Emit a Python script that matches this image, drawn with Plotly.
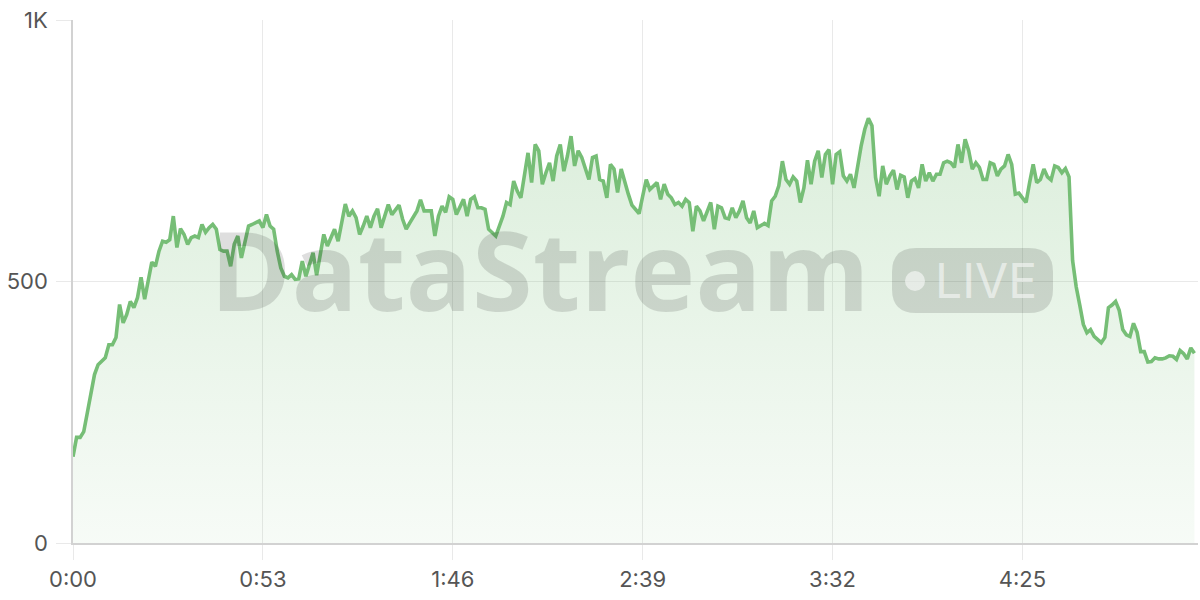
import plotly.graph_objects as go

# ---- data (seconds since start, value) ----
values = [
    165, 202, 202, 213, 249, 283, 322, 341, 347, 354, 379, 379, 393, 456, 421, 437, 462, 450, 469, 508,
    466, 498, 537, 529, 558, 577, 575, 580, 625, 565, 601, 590, 571, 584, 587, 584, 609, 594, 603, 609,
    600, 561, 558, 558, 529, 571, 587, 545, 577, 606, 609, 612, 616, 603, 628, 606, 600, 558, 526, 510,
    507, 513, 504, 505, 539, 510, 533, 555, 512, 550, 590, 568, 584, 600, 577, 615, 648, 625, 635, 622,
    590, 606, 625, 603, 625, 639, 603, 625, 647, 628, 638, 646, 619, 600, 612, 625, 635, 656, 635, 635,
    635, 587, 625, 644, 632, 662, 657, 628, 644, 657, 625, 657, 662, 641, 641, 638, 600, 593, 587, 606,
    625, 651, 647, 692, 673, 660, 702, 746, 689, 762, 750, 686, 708, 727, 692, 740, 762, 711, 740, 778,
    721, 750, 737, 715, 695, 737, 740, 695, 692, 660, 724, 715, 670, 715, 688, 667, 646, 638, 630, 663,
    695, 676, 683, 689, 657, 686, 667, 660, 647, 651, 644, 657, 651, 596, 644, 635, 616, 635, 651, 600,
    644, 641, 622, 620, 641, 622, 635, 654, 622, 612, 635, 603, 607, 611, 607, 654, 663, 683, 730, 695,
    686, 700, 692, 651, 679, 732, 686, 730, 750, 699, 743, 752, 686, 743, 748, 702, 692, 705, 679, 720,
    760, 791, 812, 798, 699, 663, 721, 686, 702, 713, 676, 703, 700, 660, 692, 697, 679, 724, 692, 708,
    692, 705, 705, 727, 730, 727, 718, 762, 727, 772, 750, 715, 727, 718, 695, 695, 727, 724, 702, 715,
    721, 743, 724, 667, 669, 660, 651, 689, 724, 689, 695, 715, 700, 694, 721, 718, 708, 716, 700, 540,
    490, 455, 418, 402, 408, 395, 388, 383, 393, 450, 455, 462, 445, 408, 398, 395, 420, 403, 366, 366,
    346, 347, 354, 352, 352, 354, 358, 357, 351, 368, 362, 352, 373, 363,
]
seconds = list(range(len(values)))

tick_seconds = [0, 53, 106, 159, 212, 265]
tick_labels = ["0:00", "0:53", "1:46", "2:39", "3:32", "4:25"]
y_ticks = [0, 500, 1000]
y_labels = ["0", "500", "1K"]

LINE = "rgb(118,190,118)"
GRID = "#e9e9e9"
AXIS = "#d2d2d2"
FONT = "Inter"

fig = go.Figure()
fig.add_trace(go.Scatter(
    x=seconds, y=values, mode="lines",
    line=dict(color=LINE, width=3.6),
    fill="tozeroy",
    fillgradient=dict(type="vertical", start=0, stop=820,
                      colorscale=[[0, "rgba(118,190,118,0.06)"], [1, "rgba(118,190,118,0.26)"]]),
    hoverinfo="skip",
))

# watermark
def px_x(p):
    return (p - 73) / 1125

def px_y(p):
    return (543 - p) / 523

fig.add_annotation(
    text="<b>DataStream</b>", xref="paper", yref="paper",
    x=px_x(540), y=px_y(268), xanchor="center", yanchor="middle", showarrow=False,
    font=dict(family="Open Sans", size=110, color="rgba(0,0,0,0.13)"),
)

x0, x1 = px_x(892), px_x(1053)
y0, y1 = px_y(313), px_y(248)
rx, ry = 24 / 1125, 24 / 523
path = (f"M {x0+rx},{y0} L {x1-rx},{y0} Q {x1},{y0} {x1},{y0+ry} L {x1},{y1-ry} "
        f"Q {x1},{y1} {x1-rx},{y1} L {x0+rx},{y1} Q {x0},{y1} {x0},{y1-ry} "
        f"L {x0},{y0+ry} Q {x0},{y0} {x0+rx},{y0} Z")
fig.add_shape(type="path", path=path, xref="paper", yref="paper",
              fillcolor="rgba(0,0,0,0.13)", line=dict(width=0))
fig.add_shape(type="circle", xref="paper", yref="paper",
              x0=px_x(905), x1=px_x(925), y0=px_y(291), y1=px_y(271),
              fillcolor="rgba(255,255,255,0.55)", line=dict(width=0))
fig.add_annotation(
    text="LIVE", xref="paper", yref="paper",
    x=px_x(986), y=px_y(280), xanchor="center", yanchor="middle", showarrow=False,
    font=dict(family=FONT, size=48, color="rgba(255,255,255,0.55)"),
)

fig.update_layout(
    width=1200, height=600,
    margin=dict(l=73, r=2, t=20, b=57, autoexpand=False),
    plot_bgcolor="white", paper_bgcolor="white",
    showlegend=False,
    font=dict(family=FONT, size=22, color="#555"),
)
fig.update_xaxes(
    range=[0, 314], tickvals=tick_seconds, ticktext=tick_labels,
    showgrid=True, gridcolor=GRID, gridwidth=1,
    showline=True, linecolor=AXIS, linewidth=1.5,
    ticks="outside", ticklen=15, tickcolor=GRID, tickwidth=1,
    zeroline=False, tickfont=dict(size=22, color="#555"),
    ticklabelstandoff=1, automargin=False,
)
fig.update_yaxes(
    range=[0, 1000], tickvals=y_ticks, ticktext=y_labels,
    showgrid=True, gridcolor=GRID, gridwidth=1,
    showline=True, linecolor=AXIS, linewidth=1.5,
    ticks="outside", ticklen=15, tickcolor=GRID, tickwidth=1,
    zeroline=False, tickfont=dict(size=22, color="#555"),
    ticklabelstandoff=4, automargin=False,
)

fig.write_html("out.html", config={"displayModeBar": False},
               post_script="document.body.style.margin='0px';")
